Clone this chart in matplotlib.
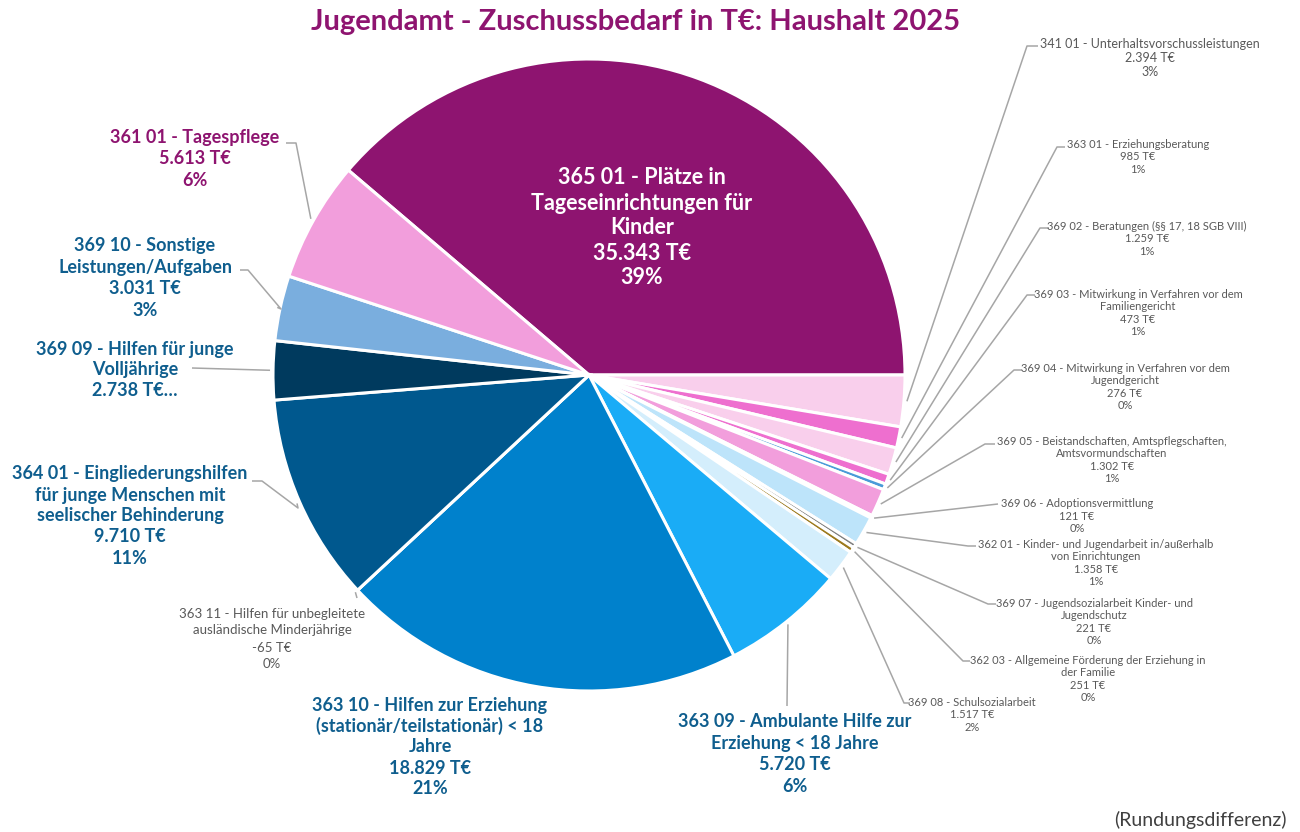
import numpy as np
import matplotlib.pyplot as plt

plt.rcParams['font.family'] = ['Lato', 'DejaVu Sans']

# Daten (Reihenfolge im Uhrzeigersinn ab der großen Scheibe)
codes = ['365 01', '341 01', '363 01', '369 02', '369 03', '369 04', '369 05',
         '369 06', '362 01', '369 07', '362 03', '369 08', '363 09', '363 10',
         '363 11', '364 01', '369 09', '369 10', '361 01']
names = ['Plätze in\nTageseinrichtungen für\nKinder',
         'Unterhaltsvorschussleistungen',
         'Erziehungsberatung',
         'Beratungen (§§ 17, 18 SGB VIII)',
         'Mitwirkung in Verfahren vor dem\nFamiliengericht',
         'Mitwirkung in Verfahren vor dem\nJugendgericht',
         'Beistandschaften, Amtspflegschaften,\nAmtsvormundschaften',
         'Adoptionsvermittlung',
         'Kinder- und Jugendarbeit in/außerhalb\nvon Einrichtungen',
         'Jugendsozialarbeit Kinder- und\nJugendschutz',
         'Allgemeine Förderung der Erziehung in\nder Familie',
         'Schulsozialarbeit',
         'Ambulante Hilfe zur\nErziehung < 18 Jahre',
         'Hilfen zur Erziehung\n(stationär/teilstationär) < 18\nJahre',
         'Hilfen für unbegleitete\nausländische Minderjährige',
         'Eingliederungshilfen\nfür junge Menschen mit\nseelischer Behinderung',
         'Hilfen für junge\nVolljährige',
         'Sonstige\nLeistungen/Aufgaben',
         'Tagespflege']
values = [35343, 2394, 985, 1259, 473, 276, 1302, 121, 1358, 221, 251, 1517,
          5720, 18829, -65, 9710, 2738, 3031, 5613]
colors = ['#8E1470', '#F9CFEC', '#EE6FCF', '#F9CFEC', '#EE6FCF', '#4A9BD8',
          '#F29EDC', '#9DD3F5', '#BDE4FA', '#7F7F7F', '#9C7A1E', '#D4EEFC',
          '#1AACF6', '#0081CC', '#0081CC', '#00588E', '#003A5E', '#7AAEDE',
          '#F29EDC']

W, H = 1300, 832
cx, cy, R = 589, 375, 316


def P(x, y):
    # Pixelkoordinaten (von oben) -> Datenkoordinaten
    return x, H - y


fig = plt.figure(figsize=(13, 8.32), dpi=100)
ax = fig.add_axes([0, 0, 1, 1])

sizes = np.clip(values, 0, None)
total_pos = sizes.sum()
total = sum(values)
start = values[0] / total_pos * 360

ax.pie(sizes, colors=colors, startangle=start, counterclock=False,
       center=P(cx, cy), radius=R,
       wedgeprops=dict(edgecolor='white', linewidth=2.2))
ax.set_xlim(0, W)
ax.set_ylim(0, H)
ax.set_aspect('equal')
ax.axis('off')

cum = np.concatenate([[0], np.cumsum(sizes)])
mid = start - (cum[:-1] + sizes / 2) / total_pos * 360


def rim(i, extra=0):
    a = np.deg2rad(mid[i])
    return cx + (R + extra) * np.cos(a), cy - (R + extra) * np.sin(a)


def label_text(i):
    v = f"{values[i]:,}".replace(',', '.')
    if codes[i] == '369 09':
        return f"{codes[i]} - {names[i]}\n{v} T€…"
    pct = int(round(values[i] / total * 100))
    return f"{codes[i]} - {names[i]}\n{v} T€\n{pct}%"


purple = '#8E1470'
blue = '#0F5E8E'
grey = '#595959'
line_c = '#A6A6A6'

# Beschriftungs-Layout: Index -> (x, y-Mitte, Farbe, Größe, fett, Zeilenabstand px)
layout = {
    0: (642, 228, 'white', 15.5, True, 25),
    18: (195, 159, purple, 13, True, 21),
    17: (145, 278, blue, 13, True, 21.5),
    16: (135, 370, blue, 13, True, 20),
    15: (130, 516, blue, 13, True, 21),
    14: (272, 639, grey, 9.5, False, 17),
    13: (430, 747, blue, 13, True, 21),
    12: (795, 754, blue, 13, True, 21.5),
    11: (972, 715, grey, 8, False, 12.5),
    10: (1088, 679, grey, 8, False, 12.5),
    9: (1094, 622, grey, 8, False, 12.5),
    8: (1096, 563, grey, 8, False, 12.5),
    7: (1077, 516, grey, 8, False, 12.5),
    6: (1112, 460, grey, 8, False, 12.5),
    5: (1125, 387, grey, 8, False, 12.5),
    4: (1138, 313, grey, 8, False, 12.5),
    3: (1147, 239, grey, 8, False, 12.5),
    2: (1138, 157, grey, 8, False, 12.5),
    1: (1150, 58, grey, 9, False, 14),
}
for i, (x, y, c, s, b, sp) in layout.items():
    lines = label_text(i).split('\n')
    n = len(lines)
    for k, ln in enumerate(lines):
        yk = y + (k - (n - 1) / 2) * sp
        ax.text(*P(x, yk), ln, ha='center', va='center', color=c,
                fontsize=s, fontweight='bold' if b else 'normal')

# Führungslinien: Index -> Ende (x, y) am Text, Knick davor
leaders = {
    18: [(296, 143), (286, 143)],
    17: [(281, 309), (248, 270), (240, 270)],
    16: [(192, 368)],
    15: [(298, 508), (262, 481), (252, 481)],
    14: [(357, 598)],
    12: [(787, 706)],
    11: [(904, 703), (910, 703)],
    10: [(963, 661), (970, 661)],
    9: [(988, 604), (996, 604)],
    8: [(968, 546), (976, 546)],
    7: [(998, 504)],
    6: [(985, 444), (995, 444)],
    5: [(1014, 370), (1022, 370)],
    4: [(1027, 295), (1035, 295)],
    3: [(1040, 228), (1049, 228)],
    2: [(1057, 147), (1065, 147)],
    1: [(1027, 46), (1038, 46)],
}
for i, pts in leaders.items():
    x0, y0 = rim(i, 3)
    xs = [x0] + [p[0] for p in pts]
    ys = [H - y0] + [H - p[1] for p in pts]
    ax.plot(xs, ys, color=line_c, lw=1.1, solid_capstyle='butt')

ax.text(*P(636, 22), 'Jugendamt - Zuschussbedarf in T€: Haushalt 2025',
        ha='center', va='center', color=purple, fontsize=21, fontweight='bold')
ax.text(*P(1287, 820), '(Rundungsdifferenz)', ha='right', va='center',
        color='#404040', fontsize=14)

fig.savefig('out.png', dpi=100)
